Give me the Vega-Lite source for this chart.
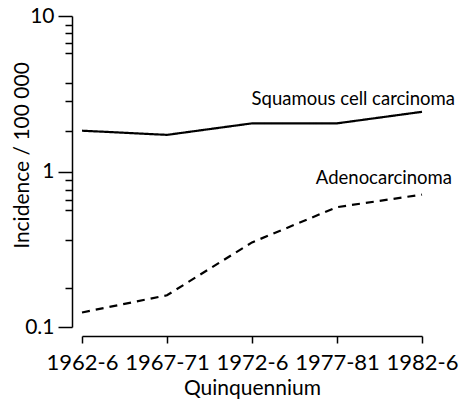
{
  "$schema": "https://vega.github.io/schema/vega-lite/v6.json",
  "width": 340,
  "height": 311,
  "autosize": {"type": "none"},
  "padding": {"left": 82, "top": 16, "right": 37, "bottom": 76},
  "background": "white",
  "config": {
    "view": {"stroke": null},
    "font": "Lato",
    "axis": {
      "domainColor": "black",
      "domainWidth": 1.5,
      "tickColor": "black",
      "tickWidth": 1.5,
      "labelColor": "black",
      "titleColor": "black",
      "labelFont": "Lato",
      "titleFont": "Lato",
      "titleFontWeight": "normal",
      "grid": false
    }
  },
  "datasets": {
    "series": [
      {"period": "1962-6", "type": "Squamous cell carcinoma", "value": 1.83},
      {"period": "1967-71", "type": "Squamous cell carcinoma", "value": 1.72},
      {"period": "1972-6", "type": "Squamous cell carcinoma", "value": 2.04},
      {"period": "1977-81", "type": "Squamous cell carcinoma", "value": 2.04},
      {"period": "1982-6", "type": "Squamous cell carcinoma", "value": 2.42},
      {"period": "1962-6", "type": "Adenocarcinoma", "value": 0.124},
      {"period": "1967-71", "type": "Adenocarcinoma", "value": 0.16},
      {"period": "1972-6", "type": "Adenocarcinoma", "value": 0.35},
      {"period": "1977-81", "type": "Adenocarcinoma", "value": 0.59},
      {"period": "1982-6", "type": "Adenocarcinoma", "value": 0.71}
    ]
  },
  "data": {"name": "series"},
  "encoding": {
    "x": {
      "field": "period",
      "type": "ordinal",
      "sort": null,
      "scale": {"type": "point", "padding": 0},
      "axis": {
        "title": "Quinquennium",
        "labelAngle": 0,
        "offset": 9,
        "tickSize": 7,
        "labelPadding": 9,
        "labelFontSize": 22,
        "titleFontSize": 21,
        "titlePadding": 4
      }
    },
    "y": {
      "field": "value",
      "type": "quantitative",
      "scale": {"type": "log", "domain": [0.1, 10], "nice": false},
      "axis": {
        "title": "Incidence / 100 000",
        "values": [0.1, 0.178, 0.36, 0.563, 0.654, 0.759, 0.881, 1, 1.82, 2.83, 3.72, 5.78, 6.69, 7.75, 8.76, 10],
        "tickCount": 30,
        "labelExpr": "datum.value == 0.1 ? '0.1' : datum.value == 1 ? '1' : datum.value == 10 ? '10' : ''",
        "labelOverlap": false,
        "tickSize": {"condition": {"test": "datum.value == 0.1 || datum.value == 1 || datum.value == 10", "value": 14}, "value": 7},
        "offset": 10,
        "labelPadding": 4,
        "labelFontSize": 21,
        "titleFontSize": 21,
        "titleAngle": -90,
        "titleAlign": "center",
        "titleBaseline": "alphabetic",
        "titleX": -44,
        "titleY": 139
      }
    }
  },
  "layer": [
    {
      "mark": {"type": "line", "color": "black", "strokeWidth": 2.2},
      "encoding": {
        "strokeDash": {
          "field": "type",
          "type": "nominal",
          "scale": {"domain": ["Squamous cell carcinoma", "Adenocarcinoma"], "range": [[1, 0], [8, 6]]},
          "legend": null
        }
      }
    },
    {
      "transform": [{"filter": "datum.period == '1982-6' && datum.type == 'Squamous cell carcinoma'"}],
      "mark": {"type": "text", "align": "right", "baseline": "alphabetic", "dx": 33, "dy": -7, "fontSize": 18.5, "font": "Lato", "color": "black"},
      "encoding": {"text": {"field": "type"}}
    },
    {
      "transform": [{"filter": "datum.period == '1982-6' && datum.type == 'Adenocarcinoma'"}],
      "mark": {"type": "text", "align": "right", "baseline": "alphabetic", "dx": 30, "dy": -11, "fontSize": 18.5, "font": "Lato", "color": "black"},
      "encoding": {"text": {"field": "type"}}
    }
  ]
}
